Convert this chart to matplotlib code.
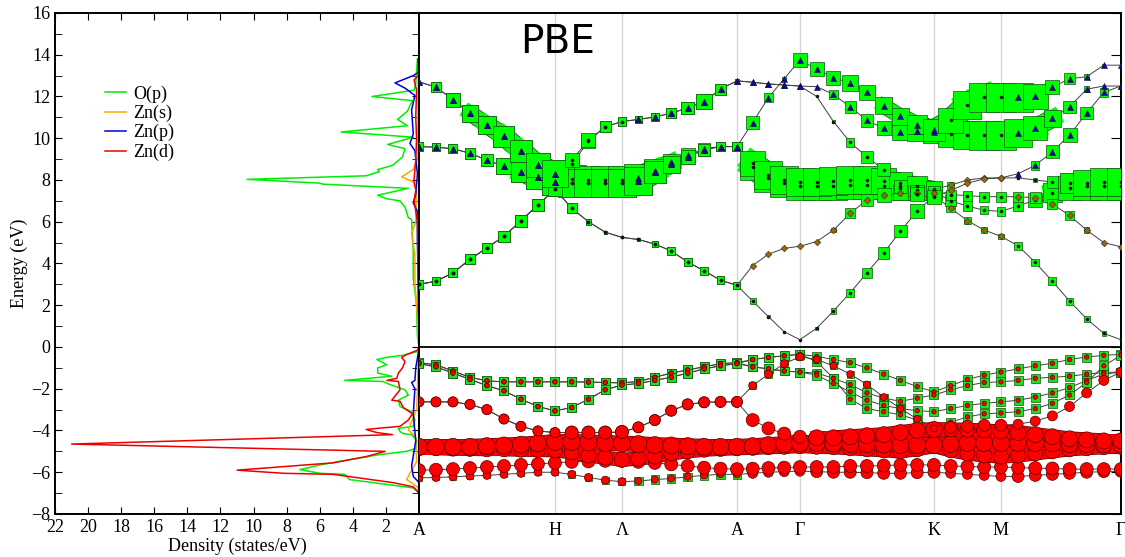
import numpy as np
import matplotlib.pyplot as plt
from matplotlib.ticker import MultipleLocator
from matplotlib.collections import LineCollection

plt.rcParams['font.family'] = ['Liberation Serif', 'DejaVu Serif']

# ==========================
# PDOS (states/eV)
# ==========================
e_op = [13.8, 12.6, 12.3, 12.0, 11.8, 11.3, 10.9, 10.6, 10.3, 10.05, 9.7, 9.5, 9.1, 8.7, 8.5, 8.4, 8.2,
        8.03, 7.85, 7.8, 7.6, 7.27, 7.1, 7.0, 6.7, 6.2, 6.1, 4.6, 3.3, 3.0, 2.0, 0.5, 0.3, 0.0,
        -0.2, -0.25, -0.4, -0.5, -0.6, -0.85, -1.0, -1.25, -1.4, -1.6, -1.65, -1.8, -2.05, -2.3,
        -2.55, -2.85, -3.1, -3.5, -3.8, -3.9, -4.05, -4.15, -4.2, -4.45, -4.85, -5.0, -5.15, -5.4,
        -5.65, -5.75, -5.87, -6.05, -6.1, -6.35, -6.75, -7.0]
dos_op = [0.1, 0.2, 0.3, 2.85, 0.4, 0.7, 1.3, 0.7, 4.7, 0.35, 1.9, 0.85, 1.0, 1.6, 2.5, 2.4, 3.2,
          10.4, 6.0, 5.8, 0.65, 2.5, 1.95, 1.15, 0.85, 0.65, 0.45, 0.35, 0.35, 0.3, 0.15, 0.1, 0.05, 0.0,
          0.0, 0.25, 1.0, 1.95, 2.55, 1.95, 2.5, 2.5, 1.65, 4.5, 2.2, 1.75, 0.85, 0.65,
          1.25, 1.15, 0.45, 0.25, 0.35, 1.25, 1.15, 0.95, 0.45, 0.15, 0.15, 0.75, 2.35, 4.2,
          6.0, 6.5, 7.2, 6.0, 4.5, 4.2, 0.35, 0.0]

e_zns = [13.5, 9.0, 8.5, 8.15, 7.9, 7.5, 6.0, 5.45, 4.4, 3.0, 1.5, 0.3, 0.0,
         -0.3, -2.0, -3.0, -3.97, -4.3, -5.5, -6.05, -6.35, -6.7, -7.0]
dos_zns = [0.05, 0.1, 0.35, 1.05, 0.35, 0.15, 0.2, 0.45, 0.25, 0.25, 0.1, 0.05, 0.0,
           0.05, 0.1, 0.15, 0.65, 0.2, 0.15, 0.55, 0.75, 0.1, 0.0]

e_znp = [13.8, 13.15, 13.0, 12.65, 12.4, 12.05, 11.35, 10.2, 9.75, 9.4, 8.3, 7.3, 6.9, 6.5, 5.0, 3.0, 0.0,
         -0.3, -1.0, -1.6, -1.7, -2.0, -3.2, -4.5, -5.7, -6.2, -6.5]
dos_znp = [0.05, 0.05, 0.35, 1.45, 0.85, 0.25, 0.45, 0.35, 0.55, 0.25, 0.1, 0.2, 0.35, 0.1, 0.1, 0.05, 0.0,
           0.05, 0.2, 0.25, 0.45, 0.25, 0.35, 0.2, 0.45, 0.35, 0.0]

e_znd = [13.0, 12.8, 12.3, 11.0, 10.0, 9.0, 8.0, 7.5, 7.0, 6.0, 3.0, 0.0,
         -0.15, -0.4, -0.5, -0.7, -1.0, -1.25, -1.5, -1.6, -1.65, -2.05, -2.55, -2.6, -2.9, -3.2,
         -3.5, -3.8, -3.9, -3.95, -4.1, -4.2, -4.65, -5.0, -5.25, -5.55, -5.9, -6.05, -6.1, -6.5, -6.7, -7.0]
dos_znd = [0.05, 0.3, 0.15, 0.2, 0.15, 0.2, 0.3, 0.2, 0.3, 0.1, 0.05, 0.0,
           0.1, 0.85, 1.05, 0.85, 1.0, 1.25, 1.35, 1.95, 1.25, 1.15, 1.65, 1.15, 0.95, 0.4,
           0.65, 1.15, 2.55, 3.2, 2.55, 1.6, 21.0, 2.05, 3.2, 5.2, 11.0, 8.2, 5.2, 1.55, 0.35, 0.0]

# ==========================
# Band structure: path and sampled k-points
# ==========================
k_labels = ['A', 'H', 'Λ', 'A', 'Γ', 'K', 'M', 'Γ']
k_nodes = [0.0, 1.36, 2.03, 3.18, 3.81, 5.15, 5.82, 7.02]
n_pts = [8, 4, 7, 4, 8, 4, 7]   # points per segment

# conduction bands: energies (eV) and O(p) weight, segment by segment
# A-H | H-Λ | Λ-A | A-Γ | Γ-K | K-M | M-Γ
cb1_e = [3.0, 3.15, 3.55, 4.2, 4.75, 5.3, 6.05, 6.8, 7.55,
         6.65, 6.0, 5.5, 5.25,
         5.15, 4.93, 4.6, 4.07, 3.65, 3.2, 2.95,
         2.2, 1.45, 0.73, 0.35,
         0.9, 1.72, 2.6, 3.55, 4.5, 5.55, 6.5, 7.25,
         6.65, 6.05, 5.6, 5.3,
         4.85, 4.05, 3.15, 2.2, 1.35, 0.65, 0.35]
cb1_w = [0.3, 0.3, 0.32, 0.35, 0.37, 0.4, 0.42, 0.45, 0.5,
         0.35, 0.2, 0.1, 0.05,
         0.1, 0.2, 0.28, 0.28, 0.28, 0.28, 0.25,
         0.2, 0.12, 0.08, 0.03,
         0.12, 0.2, 0.3, 0.35, 0.4, 0.45, 0.5, 0.5,
         0.3, 0.25, 0.2, 0.2,
         0.28, 0.28, 0.28, 0.25, 0.22, 0.15, 0.03]

cb2_e = cb1_e[:9] + [8.75, 9.85, 10.55, 10.8,
                     10.9, 11.02, 11.2, 11.45, 11.75, 12.35, 12.75,
                     12.68, 12.6, 12.55, 12.5,
                     12.47, 12.1, 11.5, 10.85, 10.48, 10.3, 10.35, 10.3,
                     10.2, 10.15, 10.14, 10.14,
                     10.25, 10.5, 10.95, 11.5, 12.35, 12.5, 12.5]
cb2_w = cb1_w[:9] + [0.5, 0.5, 0.4, 0.3,
                     0.25, 0.28, 0.35, 0.45, 0.55, 0.4, 0.15,
                     0.03, 0.03, 0.03, 0.03,
                     0.05, 0.3, 0.4, 0.45, 0.5, 0.6, 0.7, 0.8,
                     0.9, 1.0, 1.05, 1.05,
                     1.0, 0.85, 0.6, 0.45, 0.2, 0.05, 0.03]

cb3_e = [9.6, 9.57, 9.5, 9.28, 8.95, 8.66, 8.37, 8.13, 7.9,
         7.85, 7.85, 7.85, 7.85,
         7.95, 8.37, 8.75, 9.1, 9.45, 9.6, 9.6,
         8.6, 8.1, 7.85, 7.7,
         7.7, 7.7, 7.75, 7.75, 7.7, 7.6, 7.5, 7.45,
         7.0, 6.75, 6.55, 6.5,
         6.75, 7.05, 7.4, 7.6, 7.7, 7.7, 7.7]
cb3_w = [0.3, 0.3, 0.32, 0.38, 0.45, 0.55, 0.7, 0.85, 0.95,
         1.0, 1.0, 1.0, 1.0,
         1.0, 0.8, 0.6, 0.5, 0.42, 0.35, 0.35,
         0.9, 1.0, 1.0, 1.0,
         1.0, 1.0, 1.0, 1.0, 0.9, 0.8, 0.7, 0.6,
         0.4, 0.35, 0.3, 0.3,
         0.35, 0.5, 0.7, 0.85, 1.0, 1.0, 1.0]

cb4_e = [12.7, 12.45, 11.85, 11.2, 10.65, 10.1, 9.4, 8.7, 8.3,
         8.05, 8.0, 8.0, 8.0,
         8.1, 8.45, 8.85, 9.2, 9.5, 9.6, 9.6,
         8.8, 8.25, 8.0, 7.9,
         7.9, 7.95, 8.0, 8.0, 7.95, 7.85, 7.7, 7.55,
         7.75, 8.0, 8.1, 8.1,
         8.1, 8.0, 7.9, 7.85, 7.85, 7.9, 7.9]
cb4_w = [0.03, 0.35, 0.5, 0.6, 0.65, 0.75, 0.8, 0.85, 0.95,
         1.0, 1.0, 1.0, 1.0,
         1.0, 0.8, 0.6, 0.5, 0.42, 0.35, 0.35,
         0.9, 1.0, 1.0, 1.0,
         1.0, 1.0, 1.0, 1.0, 0.9, 0.8, 0.7, 0.6,
         0.25, 0.1, 0.05, 0.05,
         0.05, 0.15, 0.4, 0.7, 0.95, 1.0, 1.0]

cb5_e = cb3_e[:20] + [10.75, 11.95, 12.85, 13.75,
                      13.3, 12.9, 12.65, 12.2, 11.55, 11.05, 10.65, 10.4,
                      10.85, 11.6, 11.96, 11.96,
                      11.96, 12.0, 12.45, 12.85, 12.95, 13.5, 13.5]
cb5_w = cb3_w[:20] + [0.45, 0.3, 0.15, 0.5,
                      0.5, 0.5, 0.55, 0.55, 0.6, 0.6, 0.7, 0.8,
                      0.9, 1.0, 1.05, 1.05,
                      1.05, 0.9, 0.5, 0.4, 0.2, 0.1, 0.05]

cb6_e = cb1_e[:20] + [3.9, 4.45, 4.72, 4.83,
                      5.05, 5.6, 6.4, 7.05, 7.3, 7.4, 7.4, 7.4,
                      7.3, 7.25, 7.2, 7.2,
                      7.2, 7.15, 6.85, 6.3, 5.6, 5.0, 4.8]
cb6_w = cb1_w[:20] + [0.1, 0.05, 0.03, 0.03,
                      0.05, 0.15, 0.35, 0.45, 0.5, 0.55, 0.5, 0.45,
                      0.35, 0.35, 0.35, 0.35,
                      0.35, 0.4, 0.35, 0.3, 0.2, 0.1, 0.05]

cb7_e = cb4_e[:9] + [8.95, 9.9, 10.55, 10.8] + cb2_e[13:24] + [
    12.0, 10.8, 9.8, 9.1, 8.5, 7.7, 7.35, 7.2,
    7.5, 7.85, 8.05, 8.1,
    8.3, 8.7, 9.35, 10.15, 11.2, 12.2, 12.5]
cb7_w = cb4_w[:9] + cb2_w[9:24] + [
    0.05, 0.1, 0.3, 0.4, 0.45, 0.45, 0.5, 0.5,
    0.1, 0.05, 0.05, 0.05,
    0.1, 0.3, 0.45, 0.5, 0.45, 0.3, 0.05]

# dominant minor character on each segment: '.' none, '^' Zn(p), 'd' Zn(s)
cb1_m = '.....d.'
cb2_m = '..^^^.^'
cb3_m = '^.^....'
cb4_m = '^.^..d.'
cb5_m = '^.^^^.^'
cb6_m = '...dd.d'
cb7_m = '^.^^.d^'

# valence bands: energies (eV)
v1_e = [-0.75, -0.85, -1.15, -1.45, -1.62, -1.67, -1.67, -1.67, -1.67,
        -1.67, -1.68, -1.7, -1.72,
        -1.65, -1.45, -1.25, -1.1, -0.95, -0.8, -0.75,
        -0.6, -0.5, -0.42, -0.35,
        -0.45, -0.6, -0.75, -1.0, -1.3, -1.6, -1.9, -2.15,
        -1.85, -1.55, -1.35, -1.2,
        -1.05, -0.9, -0.78, -0.6, -0.48, -0.4, -0.35]
v2_e = [-0.8, -0.95, -1.25, -1.55, -1.85, -2.1, -2.5, -2.85, -3.06,
        -2.9, -2.5, -2.05, -1.82,
        -1.75, -1.6, -1.45, -1.25, -1.05, -0.9, -0.8,
        -0.95, -1.05, -1.15, -1.2,
        -1.25, -1.5, -1.8, -2.2, -2.45, -2.6, -2.45, -2.3,
        -2.05, -1.85, -1.7, -1.67,
        -1.6, -1.5, -1.45, -1.4, -1.3, -1.22, -1.2]
v3_e = v1_e[:20] + [-0.95, -1.05, -1.15, -1.2,
                    -1.35, -1.75, -2.15, -2.55, -2.8, -2.95, -3.05, -3.1,
                    -2.95, -2.8, -2.7, -2.63,
                    -2.55, -2.4, -2.2, -1.95, -1.6, -1.3, -1.2]
v4_e = v2_e[:20] + [-0.6, -0.5, -0.42, -0.35,
                    -0.7, -1.5, -2.5, -2.95, -3.1, -3.25, -3.5, -3.85,
                    -3.6, -3.35, -3.2, -3.16,
                    -3.1, -2.95, -2.7, -2.3, -1.7, -0.9, -0.4]
d1_e = [-2.63, -2.63, -2.63, -2.75, -3.0, -3.45, -3.8, -4.02, -4.1,
        -4.1, -4.1, -4.1, -4.07,
        -3.85, -3.5, -3.05, -2.75, -2.65, -2.63, -2.63,
        -1.85, -1.3, -0.8, -0.47,
        -0.6, -0.9, -1.3, -1.8, -2.4, -2.95, -3.45, -3.9,
        -3.85, -3.8, -3.75, -3.75,
        -3.7, -3.55, -3.3, -2.85, -2.2, -1.6, -1.2]
d2_e = d1_e[:20] + [-3.5, -3.9, -4.15, -4.3,
                    -4.35, -4.35, -4.3, -4.25, -4.2, -4.1, -4.0, -3.95,
                    -3.95, -3.97, -4.0, -4.05,
                    -4.1, -4.2, -4.3, -4.4, -4.45, -4.5, -4.5]
d3_e = [-4.78, -4.78, -4.78, -4.78, -4.75, -4.72, -4.68, -4.62, -4.55,
        -4.55, -4.57, -4.6, -4.62,
        -4.65, -4.7, -4.72, -4.75, -4.78, -4.78, -4.78,
        -4.75, -4.7, -4.65, -4.6,
        -4.6, -4.62, -4.65, -4.65, -4.68, -4.7, -4.7, -4.7,
        -4.65, -4.6, -4.6, -4.6,
        -4.6, -4.6, -4.62, -4.65, -4.65, -4.65, -4.65]
d4_e = [-4.85, -4.85, -4.87, -4.88, -4.9, -4.9, -4.92, -4.93, -4.95,
        -5.05, -5.2, -5.3, -5.4,
        -5.35, -5.25, -5.1, -5.0, -4.92, -4.88, -4.85,
        -4.83, -4.8, -4.78, -4.75,
        -4.78, -4.8, -4.85, -4.9, -4.95, -5.0, -4.9, -4.75,
        -4.95, -5.1, -5.2, -5.25,
        -5.2, -5.1, -5.0, -4.9, -4.85, -4.8, -4.78]
d5_e = [-5.9, -5.88, -5.85, -5.8, -5.75, -5.7, -5.65, -5.6, -5.55,
        -5.5, -5.48, -5.45, -5.45,
        -5.5, -5.55, -5.62, -5.7, -5.78, -5.83, -5.85,
        -5.83, -5.8, -5.78, -5.75,
        -5.75, -5.75, -5.7, -5.7, -5.68, -5.65, -5.65, -5.65,
        -5.7, -5.72, -5.75, -5.75,
        -5.78, -5.8, -5.82, -5.85, -5.85, -5.85, -5.85]
d6_e = [-6.27, -6.25, -6.22, -6.18, -6.15, -6.1, -6.05, -6.0, -6.0,
        -6.1, -6.25, -6.38, -6.45,
        -6.42, -6.35, -6.3, -6.22, -6.15, -6.1, -6.1,
        -6.05, -6.0, -5.97, -5.95,
        -5.97, -6.0, -6.0, -6.02, -6.05, -6.05, -6.02, -6.0,
        -6.05, -6.1, -6.15, -6.2,
        -6.2, -6.15, -6.1, -6.05, -6.0, -5.97, -5.95]

# O(p) and Zn(d) weights of valence bands, one value per segment
v_wo = [0.32] * 7
v_wd = [0.22] * 7
d1_wo = [0.0, 0.0, 0.0, 0.25, 0.25, 0.0, 0.2]
d1_wd = [0.5, 0.65, 0.55, 0.4, 0.35, 0.6, 0.5]
d2_wd = [0.5, 0.65, 0.55, 0.65, 0.8, 0.75, 0.8]
d3_wd = [0.85] * 7
d4_wd = [0.75] * 7
d5_wd = [0.65] * 7
d6_wo = [0.2, 0.25, 0.3, 0.0, 0.0, 0.2, 0.0]
d6_wd = [0.4, 0.4, 0.35, 0.5, 0.6, 0.5, 0.6]
no_w = [0.0] * 7


def k_points():
    k = [k_nodes[0]]
    for i, n in enumerate(n_pts):
        k += list(np.linspace(k_nodes[i], k_nodes[i + 1], n + 1)[1:])
    return np.array(k)


def per_point(seg_vals):
    out = [seg_vals[0]]
    for s, n in enumerate(n_pts):
        out += [seg_vals[s]] * n
    return np.array(out)


def ribbon(ax, e, w, scale, face, edge, z, wmin):
    # only the fat parts of a band are drawn as a continuous thick stroke
    e = np.asarray(e, float)
    w = np.asarray(w, float)
    pts = np.column_stack([kk, e])
    segs = np.stack([pts[:-1], pts[1:]], axis=1)
    lw = 0.85 * scale * 0.5 * (w[:-1] + w[1:])
    keep = np.minimum(w[:-1], w[1:]) >= wmin
    if not keep.any():
        return
    ax.add_collection(LineCollection(segs[keep], linewidths=lw[keep] + 1.0, colors=edge,
                                     capstyle='butt', zorder=z))
    ax.add_collection(LineCollection(segs[keep], linewidths=lw[keep], colors=face,
                                     capstyle='projecting', zorder=z + 0.05))


kk = k_points()

cb_bands = [(cb1_e, cb1_w, cb1_m), (cb2_e, cb2_w, cb2_m), (cb3_e, cb3_w, cb3_m),
            (cb4_e, cb4_w, cb4_m), (cb5_e, cb5_w, cb5_m), (cb6_e, cb6_w, cb6_m),
            (cb7_e, cb7_w, cb7_m)]
vb_bands = [(v1_e, v_wo, v_wd), (v2_e, v_wo, v_wd), (v3_e, v_wo, v_wd), (v4_e, v_wo, v_wd),
            (d6_e, d6_wo, d6_wd), (d5_e, no_w, d5_wd), (d4_e, no_w, d4_wd),
            (d3_e, no_w, d3_wd), (d2_e, no_w, d2_wd), (d1_e, d1_wo, d1_wd)]

# ==========================
# Figure
# ==========================
fig = plt.figure(figsize=(11.25, 5.57), dpi=100)
ax_dos = fig.add_axes([0.0489, 0.0772, 0.3236, 0.8995])
ax_band = fig.add_axes([0.3724, 0.0772, 0.624, 0.8995])

# --- PDOS panel ---
ax_dos.plot(dos_op, e_op, color='#00ee00', lw=1.1, label='O(p)')
ax_dos.plot(dos_zns, e_zns, color='#ffa500', lw=1.1, label='Zn(s)')
ax_dos.plot(dos_znp, e_znp, color='#0000dd', lw=1.1, label='Zn(p)')
ax_dos.plot(dos_znd, e_znd, color='#ee0000', lw=1.1, label='Zn(d)')
ax_dos.set_xlim(22, 0)
ax_dos.set_ylim(-8, 16)
ax_dos.set_xticks(np.arange(22, 1, -2))
ax_dos.set_yticks(np.arange(-8, 17, 2))
ax_dos.yaxis.set_minor_locator(MultipleLocator(1))
ax_dos.tick_params(which='both', direction='in', top=True, right=True, labelsize=13, length=5)
ax_dos.set_xlabel('Density (states/eV)', fontsize=13, labelpad=1)
ax_dos.set_ylabel('Energy (eV)', fontsize=13, labelpad=2)
ax_dos.legend(loc='upper left', bbox_to_anchor=(0.093, 0.847), bbox_transform=fig.transFigure,
              frameon=False, fontsize=13, handlelength=1.2, handletextpad=0.4,
              labelspacing=0.12, borderpad=0, borderaxespad=0)

# --- band panel ---
for x in k_nodes[1:-1]:
    ax_band.axvline(x, color='#d4d4d4', lw=1.0, zorder=1)
ax_band.axhline(0, color='black', lw=1.3, zorder=1.5)

for e, w, m in cb_bands:
    ax_band.plot(kk, e, color='#404040', lw=0.7, zorder=2)
for e, wo, wd in vb_bands:
    ax_band.plot(kk, e, color='#404040', lw=0.7, zorder=2)

# conduction bands: O(p) squares with Zn(s)/Zn(p)/other centre marks
for e, w, m in cb_bands:
    ribbon(ax_band, e, w, 20.2, '#00ff00', '#145214', 2.5, 0.6)
for e, w, m in cb_bands:
    e = np.array(e)
    w = np.array(w)
    sel = w > 0.04
    ax_band.scatter(kk[sel], e[sel], s=(20.2 * w[sel]) ** 2, marker='s', facecolor='#00ff00',
                    edgecolor='#145214', linewidth=0.5, zorder=3)
for e, w, m in cb_bands:
    e = np.array(e)
    code = per_point(list(m))
    for c, mk, col, sz in [('.', 'o', '#111111', 5), ('^', '^', '#0a0a9a', 20), ('d', 'D', '#9a6412', 12)]:
        sel = code == c
        ax_band.scatter(kk[sel], e[sel], s=sz, marker=mk, facecolor=col,
                        edgecolor='#111111', linewidth=0.3, zorder=4)

# valence bands: O(p) squares and Zn(d) circles
for e, wo, wd in vb_bands:
    e = np.array(e)
    wo = per_point(wo)
    sel = wo > 0.04
    ax_band.scatter(kk[sel], e[sel], s=(20.2 * wo[sel]) ** 2, marker='s', facecolor='#22dd22',
                    edgecolor='#145214', linewidth=0.5, zorder=3)
for e, wo, wd in vb_bands:
    ribbon(ax_band, e, per_point(wd), 14.4, '#ff0000', '#550000', 3.5, 0.7)
for e, wo, wd in vb_bands:
    e = np.array(e)
    wd = per_point(wd)
    ax_band.scatter(kk, e, s=(14.4 * wd) ** 2, marker='o', facecolor='#ff0000',
                    edgecolor='#550000', linewidth=0.5, zorder=4)

ax_band.set_xlim(k_nodes[0], k_nodes[-1])
ax_band.set_ylim(-8, 16)
ax_band.set_xticks(k_nodes)
ax_band.set_xticklabels(k_labels)
ax_band.set_yticks(np.arange(-8, 17, 2))
ax_band.tick_params(axis='x', length=0, labelsize=13, pad=6)
ax_band.tick_params(axis='y', left=False, right=True, labelleft=False, direction='in', length=7)
ax_band.text(0.198, 0.942, 'PBE', transform=ax_band.transAxes, fontsize=28,
             family='DejaVu Sans', ha='center', va='center')

for ax in (ax_dos, ax_band):
    for sp in ax.spines.values():
        sp.set_linewidth(1.4)

fig.savefig('out.png', dpi=100)
